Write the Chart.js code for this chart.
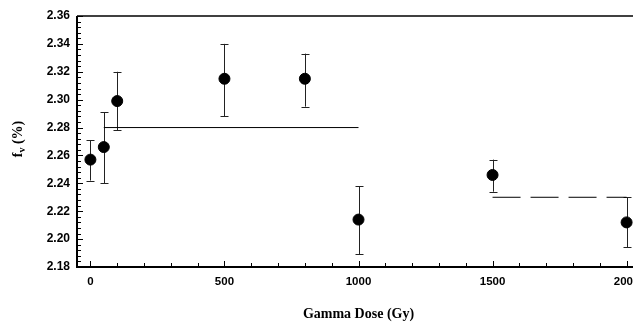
<!DOCTYPE html>
<html>
<head>
<meta charset="utf-8">
<script src="https://cdn.jsdelivr.net/npm/chart.js@4.4.1/dist/chart.umd.min.js"></script>
<style>
  html, body { margin: 0; padding: 0; overflow: hidden; background: #fff; }
  canvas { display: block; }
</style>
</head>
<body>
<canvas id="doseChart" width="660" height="322"></canvas>
<script>
(function() {
  // measured points (dose in Gy, fv in %)
  const doses = [0, 50, 100, 500, 800, 1000, 1500, 2000];
  const fv = [2.257, 2.266, 2.299, 2.315, 2.315, 2.214, 2.246, 2.212];
  const errHigh = [2.271, 2.291, 2.320, 2.340, 2.333, 2.238, 2.257, 2.230];
  const errLow = [2.242, 2.240, 2.278, 2.288, 2.295, 2.189, 2.234, 2.194];

  // mean levels
  const meanLowX = [50, 1000];
  const meanLowY = [2.28, 2.28];
  const meanHighX = [1500, 2000];
  const meanHighY = [2.23, 2.23];

  const xTicks = [0, 500, 1000, 1500, 2000];
  const yTicks = [2.18, 2.20, 2.22, 2.24, 2.26, 2.28, 2.30, 2.32, 2.34, 2.36];

  const toXY = (xs, ys) => xs.map((x, i) => ({ x: x, y: ys[i] }));

  // error bars under the markers
  const errorBars = {
    id: 'errorBars',
    beforeDatasetsDraw(chart) {
      const ctx = chart.ctx;
      const xs = chart.scales.x, ys = chart.scales.y;
      ctx.save();
      ctx.strokeStyle = '#222';
      ctx.lineWidth = 1;
      doses.forEach((d, i) => {
        const px = Math.round(xs.getPixelForValue(d)) + 0.5;
        const top = ys.getPixelForValue(errHigh[i]);
        const bot = ys.getPixelForValue(errLow[i]);
        ctx.beginPath();
        ctx.moveTo(px, top); ctx.lineTo(px, bot);
        ctx.moveTo(px - 4, Math.round(top) + 0.5); ctx.lineTo(px + 4, Math.round(top) + 0.5);
        ctx.moveTo(px - 4, Math.round(bot) + 0.5); ctx.lineTo(px + 4, Math.round(bot) + 0.5);
        ctx.stroke();
      });
      ctx.restore();
    }
  };

  // frame with inward ticks, plus axis titles
  const frame = {
    id: 'frame',
    afterDraw(chart) {
      const ctx = chart.ctx;
      const a = chart.chartArea;
      const xs = chart.scales.x, ys = chart.scales.y;
      ctx.save();
      ctx.strokeStyle = '#000';
      ctx.lineWidth = 2;
      ctx.beginPath();
      ctx.moveTo(a.left, a.top); ctx.lineTo(a.left, a.bottom); ctx.lineTo(chart.width, a.bottom);
      ctx.stroke();
      ctx.lineWidth = 1.5;
      ctx.beginPath();
      ctx.moveTo(a.left, a.top); ctx.lineTo(chart.width, a.top);
      ctx.stroke();

      ctx.lineWidth = 1;
      ctx.beginPath();
      for (let v = 0; v <= 2000; v += 100) {
        const px = Math.round(xs.getPixelForValue(v)) + 0.5;
        const len = v % 500 === 0 ? 6 : 4;
        ctx.moveTo(px, a.bottom); ctx.lineTo(px, a.bottom - len);
      }
      for (let k = 0; k <= 45; k++) {
        const v = 2.18 + k * 0.004;
        const py = Math.round(ys.getPixelForValue(v)) + 0.5;
        const len = k % 5 === 0 ? 6 : 4;
        ctx.moveTo(a.left, py); ctx.lineTo(a.left + len, py);
      }
      ctx.stroke();

      ctx.fillStyle = '#000';
      ctx.font = 'bold 14px "Liberation Serif", serif';
      ctx.textAlign = 'center';
      ctx.textBaseline = 'middle';
      ctx.fillText('Gamma Dose (Gy)', (a.left + a.right) / 2, 314);

      ctx.translate(17, 139);
      ctx.rotate(-Math.PI / 2);
      ctx.textAlign = 'left';
      ctx.textBaseline = 'alphabetic';
      const fW = ctx.measureText('f').width;
      const rest = ' (%)';
      const restW = ctx.measureText(rest).width;
      ctx.font = 'bold 10px "Liberation Serif", serif';
      const vW = ctx.measureText('v').width;
      const x0 = -(fW + vW + restW) / 2;
      ctx.font = 'bold 14px "Liberation Serif", serif';
      ctx.fillText('f', x0, 5);
      ctx.font = 'bold 10px "Liberation Serif", serif';
      ctx.fillText('v', x0 + fW, 8);
      ctx.font = 'bold 14px "Liberation Serif", serif';
      ctx.fillText(rest, x0 + fW + vW, 5);
      ctx.restore();
    }
  };

  const sans = '"Liberation Sans", Arial, sans-serif';

  new Chart(document.getElementById('doseChart').getContext('2d'), {
    type: 'scatter',
    data: {
      datasets: [
        {
          label: 'fv',
          data: toXY(doses, fv),
          pointRadius: 5.5,
          pointBackgroundColor: '#000',
          pointBorderColor: '#000',
          showLine: false
        },
        {
          label: 'mean 50-1000 Gy',
          data: toXY(meanLowX, meanLowY),
          showLine: true,
          pointRadius: 0,
          borderColor: '#000',
          borderWidth: 1
        },
        {
          label: 'mean 1500-2000 Gy',
          data: toXY(meanHighX, meanHighY),
          showLine: true,
          pointRadius: 0,
          borderColor: '#000',
          borderWidth: 1,
          borderDash: [28, 10]
        }
      ]
    },
    options: {
      responsive: false,
      animation: false,
      layout: { padding: { left: 1, top: 16, right: 20, bottom: 0 } },
      plugins: { legend: { display: false }, tooltip: { enabled: false } },
      scales: {
        x: {
          type: 'linear',
          min: -50,
          max: 2050,
          afterBuildTicks: s => { s.ticks = xTicks.map(v => ({ value: v })); },
          afterFit: s => { s.height = 55; },
          ticks: {
            color: '#000', font: { family: sans, size: 11.5, weight: 'bold' },
            padding: 8, maxRotation: 0, autoSkip: false,
            callback: v => String(v)
          },
          grid: { display: false, drawTicks: false },
          border: { display: false }
        },
        y: {
          min: 2.18,
          max: 2.36,
          afterBuildTicks: s => { s.ticks = yTicks.map(v => ({ value: v })); },
          afterFit: s => { s.width = 76; },
          ticks: {
            color: '#000', font: { family: sans, size: 12, weight: 'bold' },
            padding: 7, callback: v => v.toFixed(2)
          },
          grid: { display: false, drawTicks: false },
          border: { display: false }
        }
      }
    },
    plugins: [errorBars, frame]
  });
})();
</script>
</body>
</html>
